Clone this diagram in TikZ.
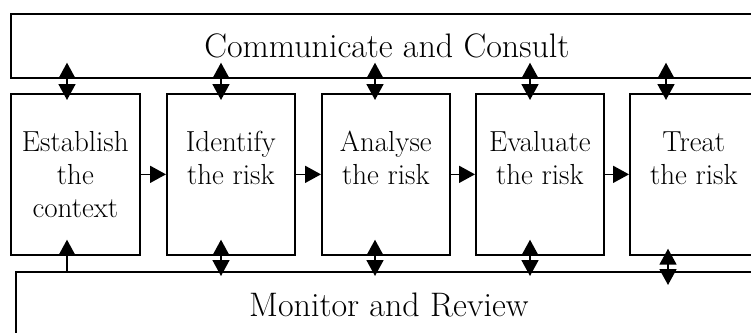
\documentclass[tikz,border=0pt]{standalone}
\usetikzlibrary{arrows.meta}
\begin{document}
\begin{tikzpicture}[x=1pt,y=-1pt,
  frame/.style={draw, line width=1.7pt},
  stage/.style={frame, minimum width=128pt, minimum height=161pt, align=center,
    font=\fontsize{29}{33}\selectfont, anchor=north west, inner sep=0pt},
  band/.style={frame, anchor=north west, inner sep=0pt, font=\fontsize{34}{40}\selectfont},
  dbl/.style={line width=1.7pt, {Triangle[length=16pt,width=17pt]}-{Triangle[length=16pt,width=17pt]}},
  sgl/.style={line width=1.7pt, -{Triangle[length=16pt,width=17pt]}}]
\useasboundingbox (0,0) rectangle (751,332);
\clip (0,0) rectangle (751,332);
% bands
\node[band, minimum width=752pt, minimum height=64pt] (cc) at (10,13) {Communicate and Consult};
\node[band, minimum width=746pt, minimum height=66pt] (mr) at (15,271) {Monitor and Review};
% stages
\node[stage, minimum width=129pt] (es) at (10,93) {Establish\\the\\context};
\node[stage] (id) at (166,93) {Identify\\the risk\\\mbox{}};
\node[stage] (an) at (321,93) {Analyse\\the risk\\\mbox{}};
\node[stage] (ev) at (475,93) {Evaluate\\the risk\\\mbox{}};
\node[stage] (tr) at (629,93) {Treat\\the risk\\\mbox{}};
% horizontal flow
\draw[sgl] (es) -- (id);
\draw[sgl] (id) -- (an);
\draw[sgl] (an) -- (ev);
\draw[sgl] (ev) -- (tr);
% communicate arrows
\draw[dbl, shorten <=-16pt, shorten >=-7pt] (cc.south -| 67,0) -- (es.north -| 67,0);
\draw[dbl, shorten <=-16pt, shorten >=-7pt] (cc.south -| 221,0) -- (id.north -| 221,0);
\draw[dbl, shorten <=-16pt, shorten >=-7pt] (cc.south -| 375,0) -- (an.north -| 375,0);
\draw[dbl, shorten <=-16pt, shorten >=-7pt] (cc.south -| 530,0) -- (ev.north -| 530,0);
\draw[dbl, shorten <=-16pt, shorten >=-7pt] (cc.south -| 666,0) -- (tr.north -| 666,0);
% monitor arrows
\draw[sgl, shorten >=-16pt] (mr.north -| 67,0) -- (es.south -| 67,0);
\draw[dbl, shorten <=-16pt, shorten >=-5pt] (id.south -| 221,0) -- (mr.north -| 221,0);
\draw[dbl, shorten <=-16pt, shorten >=-5pt] (an.south -| 375,0) -- (mr.north -| 375,0);
\draw[dbl, shorten <=-16pt, shorten >=-5pt] (ev.south -| 530,0) -- (mr.north -| 530,0);
\draw[dbl, shorten <=-7pt, shorten >=-14pt] (tr.south -| 668,0) -- (mr.north -| 668,0);
\end{tikzpicture}
\end{document}
